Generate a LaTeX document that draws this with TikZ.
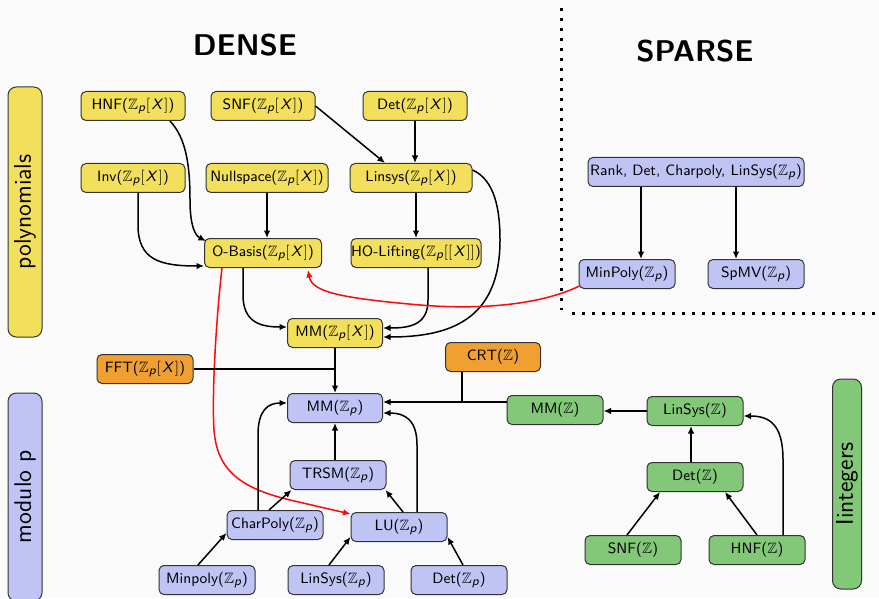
\documentclass[tikz,border=0pt]{standalone}
\usepackage{amssymb}
\usetikzlibrary{calc,arrows.meta}
\definecolor{bgc}{RGB}{250,250,250}
\definecolor{ylw}{RGB}{242,223,92}
\definecolor{org}{RGB}{240,160,48}
\definecolor{blu}{RGB}{192,196,245}
\definecolor{grn}{RGB}{130,200,120}
\definecolor{redl}{RGB}{250,10,10}
\newcommand{\myZp}{\ensuremath{\mathbb{Z}_{\mbox{\fontsize{7.5}{8}\selectfont\sffamily\itshape p}}}}
\newcommand{\myZ}{\ensuremath{\mathbb{Z}}}
\newcommand{\myX}{\mbox{\kern0.8pt\itshape X\kern1.4pt}}
\newcommand{\myZpx}{\myZp\ensuremath{[\myX]}}
\begin{document}
\begin{tikzpicture}[x=0.6pt,y=-0.6pt,
  box/.style={draw=black!80, line width=0.6pt, rounded corners=3pt, minimum height=29*0.6pt,
    inner sep=0pt, font=\fontsize{9}{11}\selectfont\sffamily},
  wd/.style={minimum width=#1*0.6pt},
  yb/.style={box, fill=ylw},
  ob/.style={box, fill=org},
  bb/.style={box, fill=blu},
  gb/.style={box, fill=grn},
  lbl/.style={draw=black!80, line width=0.6pt, rounded corners=5pt, rotate=90, inner sep=0pt,
    font=\fontsize{14.5}{16}\selectfont\sffamily},
  arr/.style={line width=0.9pt, -{Latex[length=4.5pt,width=4pt]}},
  ln/.style={line width=0.9pt},
  rarr/.style={line width=0.9pt, draw=redl, -{Latex[length=4.5pt,width=4pt]}},
  dotline/.style={line width=1.8pt, dash pattern=on 1.8pt off 4.2pt},
  title/.style={font=\fontsize{18}{22}\selectfont\sffamily\bfseries}]
\useasboundingbox (0,0) rectangle (879,598);
\fill[bgc] (0,0) rectangle (879,598);

% titles
\node[title] (dense) at (245,45) {DENSE};
\node[title] (sparse) at (695,51) {SPARSE};

% side labels
\node[lbl, fill=ylw, minimum width=250*0.6pt, minimum height=34*0.6pt] (poly) at (25,212) {polynomials};
\node[lbl, fill=blu, minimum width=208*0.6pt, minimum height=34*0.6pt] (modp) at (25,497) {modulo p};
\node[lbl, fill=grn, minimum width=210*0.6pt, minimum height=29*0.6pt] (ints) at (847,484) {Iintegers};

% polynomial nodes
\node[yb, wd=104] (hnfx) at (133,106) {HNF(\myZpx)};
\node[yb, wd=104] (snfx) at (263,106) {SNF(\myZpx)};
\node[yb, wd=104] (detx) at (415,106) {Det(\myZpx)};
\node[yb, wd=104] (invx) at (133,178) {Inv(\myZpx)};
\node[yb, wd=122] (nullx) at (267,178) {Nullspace(\myZpx)};
\node[yb, wd=122] (linx) at (411,178) {Linsys(\myZpx)};
\node[yb, wd=117] (obx) at (263,253) {O-Basis(\myZpx)};
\node[yb, wd=130] (hox) at (416,253) {HO-Lifting(\myZp\ensuremath{[[\myX]]})};
\node[yb, wd=95] (mmx) at (335,333) {MM(\myZpx)};

% orange
\node[ob, wd=96] (fft) at (145,369) {FFT(\myZpx)};
\node[ob, wd=95] (crt) at (493,357) {CRT(\myZ)};

% modulo p
\node[bb, wd=95] (mmp) at (335,408) {MM(\myZp)};
\node[bb, wd=96] (trsm) at (338,475) {TRSM(\myZp)};
\node[bb, wd=96] (charp) at (275,525) {CharPoly(\myZp)};
\node[bb, wd=96] (lu) at (399,527) {LU(\myZp)};
\node[bb, wd=96] (minp) at (207,580) {Minpoly(\myZp)};
\node[bb, wd=96] (linp) at (336,580) {LinSys(\myZp)};
\node[bb, wd=96] (detp) at (459,580) {Det(\myZp)};

% sparse
\node[bb, wd=216] (rank) at (696,172) {Rank, Det, Charpoly, LinSys(\myZp)};
\node[bb, wd=96] (spminp) at (627,274) {MinPoly(\myZp)};
\node[bb, wd=96] (spmv) at (756,274) {SpMV(\myZp)};

% integers
\node[gb, wd=96] (mmz) at (555,410) {MM(\myZ)};
\node[gb, wd=96] (linz) at (695,411) {LinSys(\myZ)};
\node[gb, wd=96] (detz) at (695,477) {Det(\myZ)};
\node[gb, wd=96] (snfz) at (633,550) {SNF(\myZ)};
\node[gb, wd=96] (hnfz) at (757,550) {HNF(\myZ)};

% dotted separator
\coordinate (d1) at (561,8);
\coordinate (d2) at (561,310);
\coordinate (d3) at (572,313);
\coordinate (d4) at (879,313);
\draw[dotline] (d1) -- (d2);
\draw[dotline] (d3) -- (d4);

% polynomial edges
\draw[arr] ($(hnfx.south)+(37,0)$) .. controls (186,138) and (190,165) .. (190,200)
  .. controls (190,228) and (196,236) .. ($(obx.north west)+(2,3)$);
\draw[arr] ($(invx.south)+(5,0)$) -- (138,225) .. controls (138,260) and (160,266) .. ($(obx.south west)+(0,-2)$);
\draw[arr] (snfx.east) -- ($(linx.north)+(-26,0)$);
\draw[arr] (detx.south) -- (detx.south |- linx.north);
\draw[arr] (nullx.south) -- (nullx.south |- obx.north);
\draw[arr] (hox.north |- linx.south) -- (hox.north);
\draw[arr] ($(linx.east)+(0,-8)$) .. controls (495,180) and (500,210) .. (500,240)
  .. controls (500,320) and (450,337) .. ($(mmx.east)+(0,4)$);
\draw[arr] ($(hox.south)+(12,0)$) -- (428,300) .. controls (428,325) and (410,328) .. ($(mmx.east)+(0,-5)$);
\draw[arr] ($(obx.south)+(-20,0)$) -- (243,295) .. controls (243,322) and (260,327) .. ($(mmx.west)+(0,-6)$);

% red edges
\draw[rarr] ($(spminp.south west)+(1,-3)$) .. controls (540,305) and (480,310) .. (420,305)
  .. controls (340,298) and (312,292) .. ($(obx.south)+(45,2)$);
\draw[rarr] ($(obx.south)+(-41,0)$) .. controls (215,330) and (212,400) .. (214,430)
  .. controls (217,470) and (240,488) .. (290,500) -- ($(lu.west)+(0,-13)$);

% modulo p edges
\draw[arr] (mmx.south) -- (mmp.north);
\draw[ln] (fft.east) -- (fft.east -| mmx.south);
\coordinate (crtj) at ($(mmp.east)+(79,-6)$);
\draw[arr] ($(mmz.west)+(0,-8)$) -- ($(mmp.east)+(0,-6)$);
\draw[ln] (crt.south -| crtj) -- (crtj);
\draw[arr] (mmp.south |- trsm.north) -- (mmp.south);
\draw[arr] ($(charp.north)+(-17,0)$) -- (258,435) .. controls (258,410) and (268,403) .. ($(mmp.west)+(0,-5)$);
\draw[arr] ($(charp.north)+(-6,0)$) -- ($(trsm.south west)+(2,0)$);
\draw[arr] ($(minp.north)+(-9,0)$) -- ($(charp.west)+(0,8)$);
\draw[arr] ($(linp.north)+(-7,0)$) -- ($(lu.west)+(0,10)$);
\draw[arr] ($(detp.north)+(4,0)$) -- ($(lu.east)+(0,10)$);
\draw[arr] ($(lu.north)+(4,0)$) -- ($(trsm.south east)+(-1,0)$);
\draw[arr] ($(lu.north)+(18,0)$) -- (417,445) .. controls (417,420) and (405,413) .. ($(mmp.east)+(0,5)$);

% integer edges
\draw[arr] (linz.west) -- (linz.west -| mmz.east);
\draw[arr] ($(detz.north)+(-4,0)$) -- ($(linz.south)+(-4,0)$);
\draw[arr] ($(snfz.north)+(-6,0)$) -- ($(detz.south)+(-35,0)$);
\draw[arr] (hnfz.north) -- ($(detz.south)+(30,0)$);
\draw[arr] ($(hnfz.north)+(26,0)$) -- (783,460) .. controls (783,425) and (770,416) .. ($(linz.east)+(0,5)$);

% sparse edges
\draw[arr] ($(rank.south)+(-55,0)$) -- ($(spminp.north)+(14,0)$);
\draw[arr] ($(rank.south)+(40,0)$) -- ($(spmv.north)+(-20,0)$);
\end{tikzpicture}
\end{document}
